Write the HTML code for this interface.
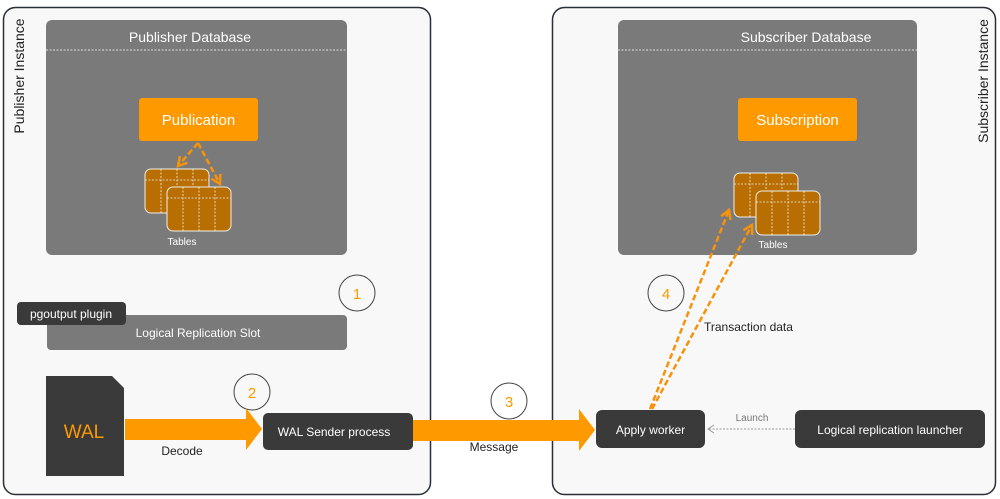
<!DOCTYPE html>
<html><head><meta charset="utf-8"><style>
html,body{margin:0;padding:0;background:#fff;}
svg{display:block;font-family:"Liberation Sans",Arial,sans-serif;}
</style></head><body>
<svg width="1000" height="499" viewBox="0 0 1000 499" xmlns="http://www.w3.org/2000/svg">
<defs>
<marker id="oa" viewBox="0 0 10 10" refX="8" refY="5" markerWidth="5" markerHeight="5" orient="auto"><path d="M1,1 L8,5 L1,9" fill="none" stroke="#f7930a" stroke-width="2"/></marker>
<g id="tbl">
<rect x="0" y="0" width="64" height="44" rx="6" fill="#b86e00" stroke="#eee" stroke-width="1"/>
<path d="M0,11 H64 M16,0 V44 M32,0 V44 M48,0 V44" stroke="#eee" stroke-width="0.8" stroke-dasharray="2,1.5"/>
</g>
</defs>
<rect width="1000" height="499" fill="#fff"/>
<rect x="3.5" y="7.5" width="427" height="487" rx="12" fill="#f8f8f8" stroke="#2a2e36" stroke-width="1.5"/>
<rect x="552.5" y="7.5" width="443" height="487" rx="12" fill="#f8f8f8" stroke="#2a2e36" stroke-width="1.5"/>
<text transform="translate(24,76) rotate(-90)" text-anchor="middle" font-size="14" fill="#222">Publisher Instance</text>
<text transform="translate(988,81) rotate(-90)" text-anchor="middle" font-size="14" fill="#222">Subscriber Instance</text>

<!-- Publisher DB -->
<rect x="46" y="20" width="301" height="235" rx="6" fill="#7a7a7a"/>
<line x1="46" y1="50" x2="347" y2="50" stroke="#ddd" stroke-dasharray="2,1.5"/>
<text x="190" y="42" text-anchor="middle" font-size="14" fill="#fff">Publisher Database</text>
<rect x="139" y="98" width="119" height="43" rx="3" fill="#ff9900"/>
<text x="198.5" y="125" text-anchor="middle" font-size="15" fill="#fff">Publication</text>
<use href="#tbl" x="145" y="169"/>
<use href="#tbl" x="167" y="187"/>
<text x="182" y="245" text-anchor="middle" font-size="10" fill="#fff">Tables</text>
<path d="M198,143 L178,166" fill="none" stroke="#f7930a" stroke-width="2.5" stroke-dasharray="6,3" marker-end="url(#oa)"/>
<path d="M198,143 L220,184" fill="none" stroke="#f7930a" stroke-width="2.5" stroke-dasharray="6,3" marker-end="url(#oa)"/>

<!-- Subscriber DB -->
<rect x="618" y="20" width="299" height="235" rx="6" fill="#7a7a7a"/>
<line x1="618" y1="50" x2="917" y2="50" stroke="#ddd" stroke-dasharray="2,1.5"/>
<text x="806" y="42" text-anchor="middle" font-size="14" fill="#fff">Subscriber Database</text>
<rect x="738" y="98" width="119" height="43" rx="3" fill="#ff9900"/>
<text x="797.5" y="125" text-anchor="middle" font-size="15" fill="#fff">Subscription</text>
<use href="#tbl" x="734" y="173"/>
<use href="#tbl" x="756" y="191"/>
<text x="773" y="248" text-anchor="middle" font-size="10" fill="#fff">Tables</text>

<!-- slot -->
<rect x="47" y="315" width="300" height="35" rx="4" fill="#7a7a7a"/>
<text x="198" y="337" text-anchor="middle" font-size="12" fill="#fff">Logical Replication Slot</text>
<rect x="17" y="302" width="109" height="23" rx="4" fill="#3a3a3a"/>
<text x="71" y="318" text-anchor="middle" font-size="12" fill="#fff">pgoutput plugin</text>

<!-- circles -->
<g font-size="15" fill="#ff9900" text-anchor="middle">
<circle cx="357" cy="293" r="18" fill="none" stroke="#444" stroke-width="1"/><text x="357" y="299">1</text>
<circle cx="252" cy="392" r="18" fill="none" stroke="#444" stroke-width="1"/><text x="252" y="398">2</text>
<circle cx="509" cy="401" r="18" fill="none" stroke="#444" stroke-width="1"/><text x="509" y="407">3</text>
<circle cx="666" cy="293" r="18" fill="none" stroke="#444" stroke-width="1"/><text x="666" y="299">4</text>
</g>

<!-- WAL -->
<path d="M46,376 H112 L124,388 V476 H46 Z" fill="#3a3a3a"/>
<text x="84" y="438" text-anchor="middle" font-size="19" fill="#ff9900">WAL</text>
<path d="M125,419 H246 V408 L262,429 L246,450 V440 H125 Z" fill="#ff9900"/>
<text x="182" y="455" text-anchor="middle" font-size="12" fill="#222">Decode</text>

<rect x="263" y="413" width="150" height="37" rx="5" fill="#3a3a3a"/>
<text x="334" y="436" text-anchor="middle" font-size="12" fill="#fff">WAL Sender process</text>
<path d="M413,420 H579 V409 L595,430 L579,451 V441 H413 Z" fill="#ff9900"/>
<text x="494" y="451" text-anchor="middle" font-size="12" fill="#222">Message</text>

<rect x="596" y="410" width="109" height="38" rx="6" fill="#3a3a3a"/>
<text x="650.5" y="434" text-anchor="middle" font-size="12" fill="#fff">Apply worker</text>
<rect x="795" y="410" width="190" height="38" rx="6" fill="#3a3a3a"/>
<text x="890" y="434" text-anchor="middle" font-size="12" fill="#fff">Logical replication launcher</text>
<line x1="795" y1="429" x2="708" y2="429" stroke="#999" stroke-width="1" stroke-dasharray="2,1.5"/>
<path d="M714,425 L708,429 L714,433" fill="none" stroke="#999" stroke-width="1"/>
<text x="752" y="421" text-anchor="middle" font-size="10" fill="#777">Launch</text>

<path d="M650,409 L729,210" fill="none" stroke="#f7930a" stroke-width="2.5" stroke-dasharray="6,3" marker-end="url(#oa)"/>
<path d="M652,409 L752,225" fill="none" stroke="#f7930a" stroke-width="2.5" stroke-dasharray="6,3" marker-end="url(#oa)"/>
<text x="704" y="331" font-size="12" fill="#222">Transaction data</text>
</svg>
</body></html>
